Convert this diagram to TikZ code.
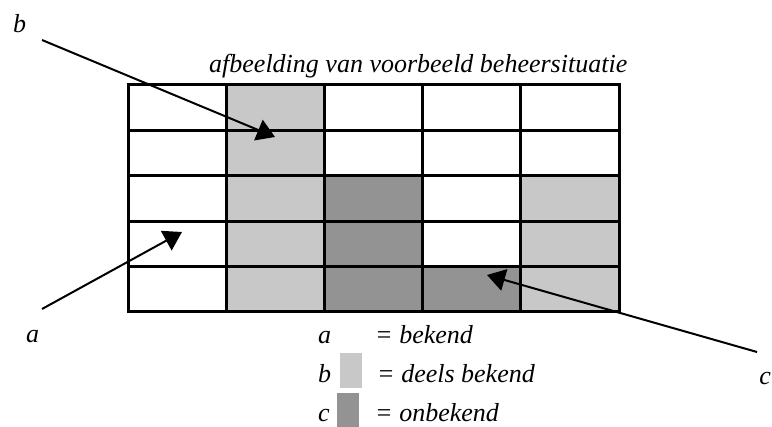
\documentclass[tikz,border=0pt]{standalone}
\usepackage{fontspec}
\setmainfont{Liberation Serif}
\usepackage{tikz}
\usetikzlibrary{positioning,arrows.meta}
\definecolor{cellw}{HTML}{FFFFFF}
\definecolor{celll}{HTML}{C8C8C8}
\definecolor{celld}{HTML}{939393}

\begin{document}
\begin{tikzpicture}[
  x=1pt,y=-1pt,
  every node/.style={font=\fontsize{26}{30}\selectfont\itshape,inner sep=0pt},
  cell/.style={draw=black,line width=3pt,minimum width=98.2pt,minimum height=45.4pt,anchor=north west,outer sep=0pt},
  swatch/.style={minimum width=22pt,minimum height=35pt,anchor=north west},
  pointer/.style={line width=2pt,-{Triangle[length=18pt,width=22pt]}}
]
\useasboundingbox[fill=white] (0,0) rectangle (772,427);
% grid of cells, w = bekend, l = deels bekend, d = onbekend
\foreach \row [count=\r] in {{w,l,w,w,w},{w,l,w,w,w},{w,l,d,w,l},{w,l,d,w,l},{w,l,d,d,l}}
  \foreach \f [count=\c] in \row
    \node[cell,fill=cell\f] (c-\r-\c) at ({128+98.2*(\c-1)},{85+45.4*(\r-1)}) {};
\node[anchor=base west] (title) at (209,73) {afbeelding van voorbeeld beheersituatie};
% pointers into the grid
\coordinate (bs) at (42,40);
\coordinate (be) at (275,137);
\coordinate (as) at (42,309);
\coordinate (ae) at (182,232);
\coordinate (cs) at (757,352);
\coordinate (ce) at (487,275);
\draw[pointer] (bs) -- (be);
\draw[pointer] (as) -- (ae);
\draw[pointer] (cs) -- (ce);
\node[anchor=base west] (lb) at (13,33) {b};
\node[anchor=base west] (la) at (26,343) {a};
\node[anchor=base east] (lc) at (771,385) {c};
% legend
\node[anchor=base west] (ka) at (318,344) {a};
\node[anchor=base west] (ta) at (375,344) {= bekend};
\node[anchor=base west] (kb) at (318,383) {b};
\node[swatch,fill=celll] (sb) at (340,353) {};
\node[anchor=base west] (tb) at (377,383) {= deels bekend};
\node[anchor=base west] (kc) at (318,422) {c};
\node[swatch,fill=celld] (sc) at (337,393) {};
\node[anchor=base west] (tc) at (375,422) {= onbekend};
\end{tikzpicture}
\end{document}
